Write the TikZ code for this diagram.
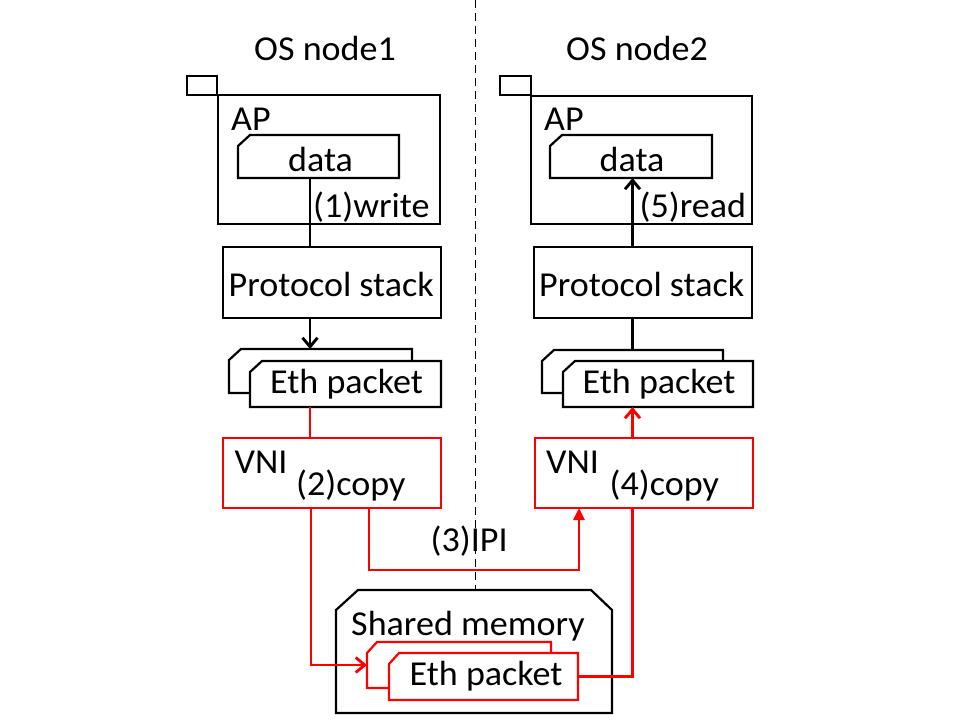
\documentclass[tikz,border=0pt]{standalone}
\usepackage{fontspec}
\setmainfont{Carlito}[FakeStretch=1.03]
\usetikzlibrary{arrows.meta}
\begin{document}
\begin{tikzpicture}[x=1pt,y=-1pt,
  box/.style={draw, line width=2.2pt, fill=white, inner sep=0pt, outer sep=0pt, anchor=north west},
  redbox/.style={box, draw=red},
  shp/.style={inner sep=0pt, outer sep=0pt, anchor=north west},
  outl/.style={draw, line width=2.2pt, fill=white, line join=miter},
  routl/.style={outl, draw=red},
  conn/.style={line width=2.9pt},
  rconn/.style={line width=2.9pt, draw=red},
  barb/.style={-{Straight Barb[length=9pt,width=15pt]}},
  tri/.style={-{Triangle[length=12pt,width=11pt]}},
  lbl/.style={inner sep=0pt, anchor=base west, font=\fontsize{35pt}{40pt}\selectfont},
  divider/.style={line width=1.5pt, dash pattern=on 8pt off 5pt}
]
\useasboundingbox (0,0) rectangle (960,720);

% column coordinates
\coordinate (c1) at (310,0);
\coordinate (c2) at (632.5,0);
\coordinate (cL) at (311,0);
\coordinate (cA) at (579,0);
\coordinate (ipi) at (369,570);
\coordinate (dtop) at (475.5,0);

% shared memory shape (named first for the divider)
\node[shp, minimum width=276pt, minimum height=123pt] (shm) at (336,590) {};

% divider
\draw[divider] (dtop) -- (shm.north -| dtop);

% ---------- OS node1 ----------
\node[box, minimum width=30pt, minimum height=19pt] (tab1) at (187,76) {};
\node[box, fill=none, minimum width=222pt, minimum height=129pt] (ap1) at (218,95) {};
\node[shp, minimum width=161pt, minimum height=43pt] (data1) at (238,135) {};
\draw[outl] ([yshift=-11pt]data1.north west) -- ([xshift=12pt]data1.north west)
  -- (data1.north east) -- (data1.south east) -- (data1.south west) -- cycle;
\node[box, minimum width=218pt, minimum height=71pt] (ps1) at (223,247) {};
\node[shp, minimum width=183pt, minimum height=44pt] (eth1b) at (229,349) {};
\draw[outl] ([yshift=-11pt]eth1b.north west) -- ([xshift=12pt]eth1b.north west)
  -- (eth1b.north east) -- (eth1b.south east) -- (eth1b.south west) -- cycle;
\node[shp, minimum width=191pt, minimum height=46pt] (eth1f) at (250,361) {};
\draw[outl] ([yshift=-11pt]eth1f.north west) -- ([xshift=12pt]eth1f.north west)
  -- (eth1f.north east) -- (eth1f.south east) -- (eth1f.south west) -- cycle;
\node[redbox, minimum width=218pt, minimum height=70pt] (vni1) at (223,438) {};

% ---------- OS node2 ----------
\node[box, minimum width=31pt, minimum height=19pt] (tab2) at (500,76) {};
\node[box, fill=none, minimum width=221pt, minimum height=128pt] (ap2) at (531,96) {};
\node[shp, minimum width=162pt, minimum height=43pt] (data2) at (550,135) {};
\draw[outl] ([yshift=-11pt]data2.north west) -- ([xshift=12pt]data2.north west)
  -- (data2.north east) -- (data2.south east) -- (data2.south west) -- cycle;
\node[box, minimum width=218pt, minimum height=71pt] (ps2) at (534,247) {};
\node[shp, minimum width=181pt, minimum height=43pt] (eth2b) at (542,350) {};
\draw[outl] ([yshift=-11pt]eth2b.north west) -- ([xshift=12pt]eth2b.north west)
  -- (eth2b.north east) -- (eth2b.south east) -- (eth2b.south west) -- cycle;
\node[shp, minimum width=190pt, minimum height=46pt] (eth2f) at (563,361) {};
\draw[outl] ([yshift=-11pt]eth2f.north west) -- ([xshift=12pt]eth2f.north west)
  -- (eth2f.north east) -- (eth2f.south east) -- (eth2f.south west) -- cycle;
\node[redbox, minimum width=218pt, minimum height=70pt] (vni2) at (535,438) {};

% ---------- Shared memory ----------
\draw[outl] ([yshift=-20pt]shm.north west) -- ([xshift=22pt]shm.north west)
  -- ([xshift=-21pt]shm.north east) -- ([yshift=-20pt]shm.north east)
  -- (shm.south east) -- (shm.south west) -- cycle;
\node[shp, minimum width=184pt, minimum height=46pt] (shb) at (367,642) {};
\draw[routl] ([yshift=-11pt]shb.north west) -- ([xshift=10pt]shb.north west)
  -- (shb.north east) -- (shb.south east) -- (shb.south west) -- cycle;
\node[shp, minimum width=189pt, minimum height=47pt] (shf) at (389,653) {};
\draw[routl] ([yshift=-11pt]shf.north west) -- ([xshift=10pt]shf.north west)
  -- (shf.north east) -- (shf.south east) -- (shf.south west) -- cycle;

% ---------- connectors ----------
\draw[conn] (data1.south -| c1) -- (ps1.north -| c1);
\draw[conn, barb] (ps1.south -| c1) -- (eth1b.north -| c1);
\draw[rconn] (eth1f.south -| c1) -- (vni1.north -| c1);
\draw[rconn, barb] (vni1.south -| cL) |- (shb.west);
\draw[rconn, tri] (vni1.south -| ipi) -- (ipi) -| (vni2.south -| cA);
\draw[rconn] (shf.east) -| (vni2.south -| c2);
\draw[rconn, barb] (vni2.north -| c2) -- (eth2f.south -| c2);
\draw[conn, barb] (ps2.north -| c2) -- (data2.south -| c2);
\draw[conn] (ps2.south -| c2) -- (eth2b.north -| c2);

% ---------- labels ----------
\node[lbl] (os1) at (254,60) {OS node1};
\node[lbl] (os2) at (566,60) {OS node2};
\node[lbl] (ap1t) at (231,130) {AP};
\node[lbl] (ap2t) at (544,130) {AP};
\node[lbl] (d1t) at (288,171.5) {data};
\node[lbl] (d2t) at (599.5,171.5) {data};
\node[lbl] (wr) at (313,217) {(1)write};
\node[lbl] (rd) at (639.5,217) {(5)read};
\node[lbl] (ps1t) at (228.5,296.5) {Protocol stack};
\node[lbl] (ps2t) at (539,296) {Protocol stack};
\node[lbl] (e1t) at (270,393) {Eth packet};
\node[lbl] (e2t) at (582.5,393) {Eth packet};
\node[lbl] (v1t) at (234.5,473) {VNI};
\node[lbl] (v2t) at (546,473) {VNI};
\node[lbl] (cp2) at (296,495) {(2)copy};
\node[lbl] (cp4) at (609.5,495.5) {(4)copy};
\node[lbl] (ipit) at (430.5,551.5) {(3)IPI};
\node[lbl] (shmt) at (351,635) {Shared memory};
\node[lbl] (shet) at (409.5,685) {Eth packet};
\end{tikzpicture}
\end{document}
